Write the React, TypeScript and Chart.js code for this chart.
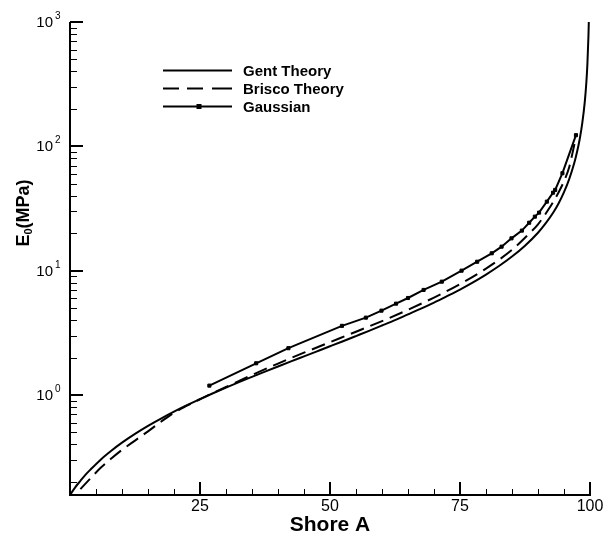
import { useEffect, useRef } from "react";
import { Chart, registerables } from "chart.js";

Chart.register(...registerables);

// ---- data ----
const gentShore = [0, 1, 2, 3, 4, 6, 8, 10, 12.5, 15, 17.5, 20, 22.5, 25, 27.5, 30, 32.5, 35, 37.5, 40, 42.5, 45, 47.5, 50, 52.5, 55, 57.5, 60, 62.5, 65, 67.5, 70, 72.5, 75, 77.5, 80, 82.5, 85, 87.5, 90, 91.5, 93, 94, 95, 96, 97, 97.5, 98, 98.5, 99, 99.3, 99.5, 99.7, 99.77];
const gentModulus = [0.157, 0.181, 0.204, 0.229, 0.253, 0.305, 0.358, 0.414, 0.487, 0.565, 0.647, 0.735, 0.828, 0.927, 1.033, 1.147, 1.269, 1.4, 1.543, 1.697, 1.864, 2.046, 2.246, 2.466, 2.709, 2.98, 3.28, 3.62, 4.0, 4.45, 4.95, 5.54, 6.24, 7.05, 8.05, 9.3, 10.9, 13.0, 15.9, 20.2, 24.1, 29.6, 35.0, 42.8, 54.5, 74.0, 90.0, 113, 152, 229, 328, 460, 767, 1000];

const briscoShore = [2, 4, 6, 8, 10, 12.5, 15, 17.5, 20, 22.5, 25, 27.5, 30, 35, 40, 45, 50, 55, 60, 65, 70, 75, 80, 85, 88, 90, 92, 94, 95, 96, 96.6, 97.3];
const briscoModulus = [0.175, 0.215, 0.262, 0.31, 0.362, 0.43, 0.51, 0.61, 0.72, 0.82, 0.925, 1.04, 1.16, 1.45, 1.79, 2.19, 2.66, 3.23, 3.93, 4.85, 6.08, 7.8, 10.4, 14.7, 19.3, 23.6, 31.0, 43.0, 52.5, 68, 87, 119];

const gaussShore = [26.8, 35.8, 42.0, 52.3, 56.9, 59.9, 62.7, 65.0, 68.0, 71.5, 75.3, 78.3, 81.1, 83.0, 84.9, 86.9, 88.3, 89.4, 90.2, 91.7, 92.9, 93.3, 94.7, 97.3];
const gaussModulus = [1.19, 1.8, 2.38, 3.6, 4.19, 4.77, 5.43, 6.03, 7.0, 8.16, 10.0, 11.8, 13.8, 15.6, 18.2, 21.0, 24.3, 27.2, 29.3, 35.9, 42.4, 44.6, 60.8, 123];

const xMajorTicks = [25, 50, 75, 100];
const xMinorStep = 5;
const yDecades = [1, 10, 100, 1000];
const yDecadeExponents = ["0", "1", "2", "3"];
const xMin = 0;
const xMax = 100;
const yMin = 0.157;
const yMax = 1000;

const seriesNames = ["Gent Theory", "Brisco Theory", "Gaussian"];
const xTitle = "Shore A";

const FONT = '"Liberation Sans", Arial, Helvetica, sans-serif';

function pts(xs: number[], ys: number[]) {
  return xs.map((x, i) => ({ x, y: ys[i] }));
}

const axesPlugin = {
  id: "tecAxes",
  afterDraw(chart: any) {
    const { ctx, chartArea: a, scales } = chart;
    const xs = scales.x;
    const ys = scales.y;
    ctx.save();
    ctx.strokeStyle = "#000";
    ctx.fillStyle = "#000";
    const seg = (x1: number, y1: number, x2: number, y2: number, w: number) => {
      ctx.lineWidth = w;
      ctx.beginPath();
      ctx.moveTo(x1, y1);
      ctx.lineTo(x2, y2);
      ctx.stroke();
    };
    // x minor ticks
    for (let v = xMin + xMinorStep; v < xMax; v += xMinorStep) {
      if (xMajorTicks.includes(v)) continue;
      const px = Math.round(xs.getPixelForValue(v)) + 0.5;
      seg(px, a.bottom, px, a.bottom - 6, 1);
    }
    // x major ticks
    for (const v of xMajorTicks) {
      const px = Math.round(xs.getPixelForValue(v));
      seg(px, a.bottom, px, a.bottom - 13, 2);
    }
    // y minor ticks
    for (let k = -1; k <= 2; k++) {
      for (let m = 2; m <= 9; m++) {
        const v = m * Math.pow(10, k);
        if (v < yMin || v > yMax) continue;
        const py = Math.round(ys.getPixelForValue(v)) + 0.5;
        seg(a.left, py, a.left + 7, py, 1);
      }
    }
    // y major ticks
    for (const v of yDecades) {
      const py = Math.round(ys.getPixelForValue(v));
      seg(a.left, py, a.left + 13, py, 2);
    }
    // axis lines
    ctx.lineWidth = 2;
    ctx.beginPath();
    ctx.moveTo(a.left, a.top);
    ctx.lineTo(a.left, a.bottom);
    ctx.lineTo(a.right + 1, a.bottom);
    ctx.stroke();

    // x tick labels
    ctx.font = `16px ${FONT}`;
    ctx.textAlign = "center";
    ctx.textBaseline = "alphabetic";
    for (const v of xMajorTicks) {
      ctx.fillText(String(v), xs.getPixelForValue(v), a.bottom + 16);
    }
    // y tick labels (10 with superscript)
    yDecades.forEach((v, i) => {
      const py = ys.getPixelForValue(v);
      ctx.font = `15px ${FONT}`;
      ctx.textAlign = "right";
      ctx.fillText("10", a.left - 17, py + 5);
      ctx.font = `10px ${FONT}`;
      ctx.textAlign = "left";
      ctx.fillText(yDecadeExponents[i], a.left - 15, py - 3);
    });

    // x title
    ctx.font = `bold 21px ${FONT}`;
    ctx.textAlign = "center";
    ctx.fillText(xTitle, (a.left + a.right) / 2, a.bottom + 36);

    // y title E0(MPa), rotated
    ctx.save();
    ctx.translate(29, 213);
    ctx.rotate(-Math.PI / 2);
    ctx.textAlign = "left";
    ctx.font = `bold 18px ${FONT}`;
    const wE = ctx.measureText("E").width;
    const wRest = ctx.measureText("(MPa)").width;
    ctx.font = `bold 11px ${FONT}`;
    const wSub = ctx.measureText("0").width;
    const total = wE + wSub + wRest;
    let cx = -total / 2;
    ctx.font = `bold 18px ${FONT}`;
    ctx.fillText("E", cx, 0);
    cx += wE;
    ctx.font = `bold 11px ${FONT}`;
    ctx.fillText("0", cx, 3);
    cx += wSub;
    ctx.font = `bold 18px ${FONT}`;
    ctx.fillText("(MPa)", cx, 0);
    ctx.restore();

    // legend
    const lx1 = 163;
    const lx2 = 232;
    const rows = [70.5, 88.5, 106.5];
    seg(lx1, rows[0], lx2, rows[0], 2);
    seg(163, rows[1], 179, rows[1], 2);
    seg(187, rows[1], 203, rows[1], 2);
    seg(212, rows[1], 232, rows[1], 2);
    seg(lx1, rows[2], lx2, rows[2], 2);
    ctx.fillRect(196.5, rows[2] - 2.5, 5, 5);
    ctx.font = `bold 15px ${FONT}`;
    ctx.textAlign = "left";
    ctx.textBaseline = "middle";
    seriesNames.forEach((n, i) => ctx.fillText(n, 243, rows[i] + 1));
    ctx.restore();
  },
};

export default function App() {
  const ref = useRef<HTMLCanvasElement | null>(null);
  useEffect(() => {
    if (!ref.current) return;
    const chart = new Chart(ref.current, {
      type: "line",
      data: {
        datasets: [
          {
            label: seriesNames[0],
            data: pts(gentShore, gentModulus),
            borderColor: "#000",
            borderWidth: 2,
            pointRadius: 0,
            cubicInterpolationMode: "monotone",
            fill: false,
          },
          {
            label: seriesNames[1],
            data: pts(briscoShore, briscoModulus),
            borderColor: "#000",
            borderWidth: 2,
            borderDash: [14, 7],
            pointRadius: 0,
            cubicInterpolationMode: "monotone",
            fill: false,
          },
          {
            label: seriesNames[2],
            data: pts(gaussShore, gaussModulus),
            borderColor: "#000",
            backgroundColor: "#000",
            borderWidth: 2,
            tension: 0,
            pointStyle: "rect",
            pointRadius: 2.2,
            pointBorderWidth: 1,
            pointBackgroundColor: "#000",
            pointBorderColor: "#000",
            fill: false,
          },
        ],
      },
      options: {
        responsive: false,
        animation: false,
        devicePixelRatio: 1,
        parsing: false as any,
        layout: { padding: { left: 70, right: 14, top: 22, bottom: 39 } },
        plugins: {
          legend: { display: false },
          tooltip: { enabled: false },
        },
        events: [],
        scales: {
          x: { type: "linear", min: xMin, max: xMax, display: false },
          y: { type: "logarithmic", min: yMin, max: yMax, display: false },
        },
      },
      plugins: [axesPlugin],
    });
    return () => chart.destroy();
  }, []);
  return (
    <div style={{ position: "absolute", left: 0, top: 0, width: 604, height: 534, background: "#fff" }}>
      <canvas ref={ref} width={604} height={534} style={{ display: "block" }} />
    </div>
  );
}
